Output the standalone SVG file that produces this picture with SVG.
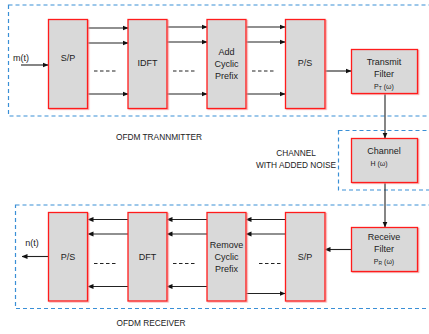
<svg xmlns="http://www.w3.org/2000/svg" width="429" height="334" viewBox="0 0 429 334">
<defs>
<marker id="ah" markerWidth="6" markerHeight="6" refX="5.5" refY="3" orient="auto" markerUnits="userSpaceOnUse">
<path d="M0,0.5 L6,3 L0,5.5 z" fill="#111"/>
</marker>
<filter id="sh" x="-10%" y="-10%" width="130%" height="130%">
<feDropShadow dx="1.2" dy="0.8" stdDeviation="0.6" flood-color="#f08080" flood-opacity="0.7"/>
</filter>
<style>
.blk{fill:#d9d9d9;stroke:#ff1a1a;stroke-width:1.3;filter:url(#sh)}
.grp{fill:none;stroke:#3a8fd6;stroke-width:1.2;stroke-dasharray:4,3}
.ln{stroke:#222;stroke-width:1.1;fill:none}
.ar{stroke:#222;stroke-width:1.1;fill:none;marker-end:url(#ah)}
.dash{stroke:#222;stroke-width:1;stroke-dasharray:3.5,2.5}
text{font-family:"Liberation Sans",Arial,sans-serif;fill:#222;font-size:9px;text-anchor:middle;dominant-baseline:central}
.cap{font-size:8.3px}
.sm{font-size:7px}
.sub{font-size:5px}
</style>
</defs>
<rect width="429" height="334" fill="#fff"/>

<g id="groups">
<rect class="grp" x="8.5" y="5" width="430" height="111"/>
<rect class="grp" x="338.5" y="130.5" width="100" height="59.5"/>
<rect class="grp" x="15.5" y="205" width="423" height="103.5"/>
</g>

<g id="connectors">
<line class="ar" x1="21" y1="65" x2="48" y2="65"/>
<line class="ar" x1="88" y1="28" x2="128" y2="28"/>
<line class="ar" x1="88" y1="43" x2="128" y2="43"/>
<line class="ar" x1="88" y1="94" x2="128" y2="94"/>
<line class="dash" x1="94" y1="71" x2="116" y2="71"/>
<line class="ar" x1="167" y1="27" x2="207" y2="27"/>
<line class="ar" x1="167" y1="42" x2="207" y2="42"/>
<line class="ar" x1="167" y1="94" x2="207" y2="94"/>
<line class="dash" x1="173" y1="71" x2="195" y2="71"/>
<line class="ar" x1="246" y1="27" x2="285" y2="27"/>
<line class="ar" x1="246" y1="42" x2="285" y2="42"/>
<line class="ar" x1="246" y1="94" x2="285" y2="94"/>
<line class="dash" x1="252" y1="71" x2="274" y2="71"/>
<line class="ar" x1="325" y1="71" x2="351" y2="71"/>
<line class="ar" x1="385" y1="93" x2="385" y2="138"/>
<line class="ar" x1="385" y1="182" x2="385" y2="227"/>
<line class="ar" x1="351" y1="249.5" x2="325" y2="249.5"/>
<line class="ar" x1="285" y1="219.5" x2="246" y2="219.5"/>
<line class="ar" x1="285" y1="234" x2="246" y2="234"/>
<line class="ar" x1="246" y1="293.5" x2="285" y2="293.5"/>
<line class="dash" x1="259" y1="263.5" x2="281" y2="263.5"/>
<line class="ar" x1="207" y1="219.5" x2="167" y2="219.5"/>
<line class="ar" x1="207" y1="234" x2="167" y2="234"/>
<line class="ar" x1="207" y1="286.5" x2="167" y2="286.5"/>
<line class="dash" x1="173" y1="263.5" x2="195" y2="263.5"/>
<line class="ar" x1="128" y1="219.5" x2="88" y2="219.5"/>
<line class="ar" x1="128" y1="234" x2="88" y2="234"/>
<line class="ar" x1="128" y1="286.5" x2="88" y2="286.5"/>
<line class="dash" x1="94" y1="263.5" x2="116" y2="263.5"/>
<line class="ar" x1="48" y1="256.5" x2="22" y2="256.5"/>
</g>

<g id="tx-sp"><rect class="blk" x="48.5" y="19.5" width="39" height="89"/><text x="68" y="58">S/P</text></g>
<g id="tx-idft"><rect class="blk" x="128" y="19.5" width="39" height="89"/><text x="147.5" y="63">IDFT</text></g>
<g id="tx-acp"><rect class="blk" x="207" y="19.5" width="39" height="89"/><text x="226.5" y="52">Add</text><text x="226.5" y="64">Cyclic</text><text x="226.5" y="76">Prefix</text></g>
<g id="tx-ps"><rect class="blk" x="285.5" y="19.5" width="39.5" height="89"/><text x="305" y="63">P/S</text></g>
<g id="tx-filter"><rect class="blk" x="351.5" y="49.5" width="66" height="44"/><text x="384" y="62">Transmit</text><text x="384" y="74">Filter</text><text class="sm" x="384" y="86">P<tspan class="sub" dy="1.5">T</tspan><tspan dy="-1.5"> (ω)</tspan></text></g>
<g id="channel"><rect class="blk" x="351.5" y="138.5" width="66" height="44"/><text x="384" y="151">Channel</text><text class="sm" x="379" y="163">H (ω)</text></g>
<g id="rx-filter"><rect class="blk" x="351.5" y="227.5" width="66" height="44"/><text x="384" y="237">Receive</text><text x="384" y="249">Filter</text><text class="sm" x="384" y="261">P<tspan class="sub" dy="1.5">R</tspan><tspan dy="-1.5"> (ω)</tspan></text></g>
<g id="rx-sp"><rect class="blk" x="285.5" y="212.5" width="39.5" height="88.5"/><text x="305" y="257">S/P</text></g>
<g id="rx-rcp"><rect class="blk" x="207" y="212.5" width="39" height="88.5"/><text x="226.5" y="244.5">Remove</text><text x="226.5" y="256.5">Cyclic</text><text x="226.5" y="269">Prefix</text></g>
<g id="rx-dft"><rect class="blk" x="128" y="212.5" width="39" height="88.5"/><text x="147.5" y="257">DFT</text></g>
<g id="rx-ps"><rect class="blk" x="48.5" y="212.5" width="39" height="88.5"/><text x="68" y="257">P/S</text></g>

<g id="labels">
<text x="21" y="58">m(t)</text>
<text x="32" y="243">n(t)</text>
<text class="cap" x="159" y="137">OFDM  TRANNMITTER</text>
<text class="cap" x="296" y="153">CHANNEL</text>
<text class="cap" x="296" y="165">WITH ADDED NOISE</text>
<text class="cap" x="151" y="323">OFDM RECEIVER</text>
</g>
</svg>
